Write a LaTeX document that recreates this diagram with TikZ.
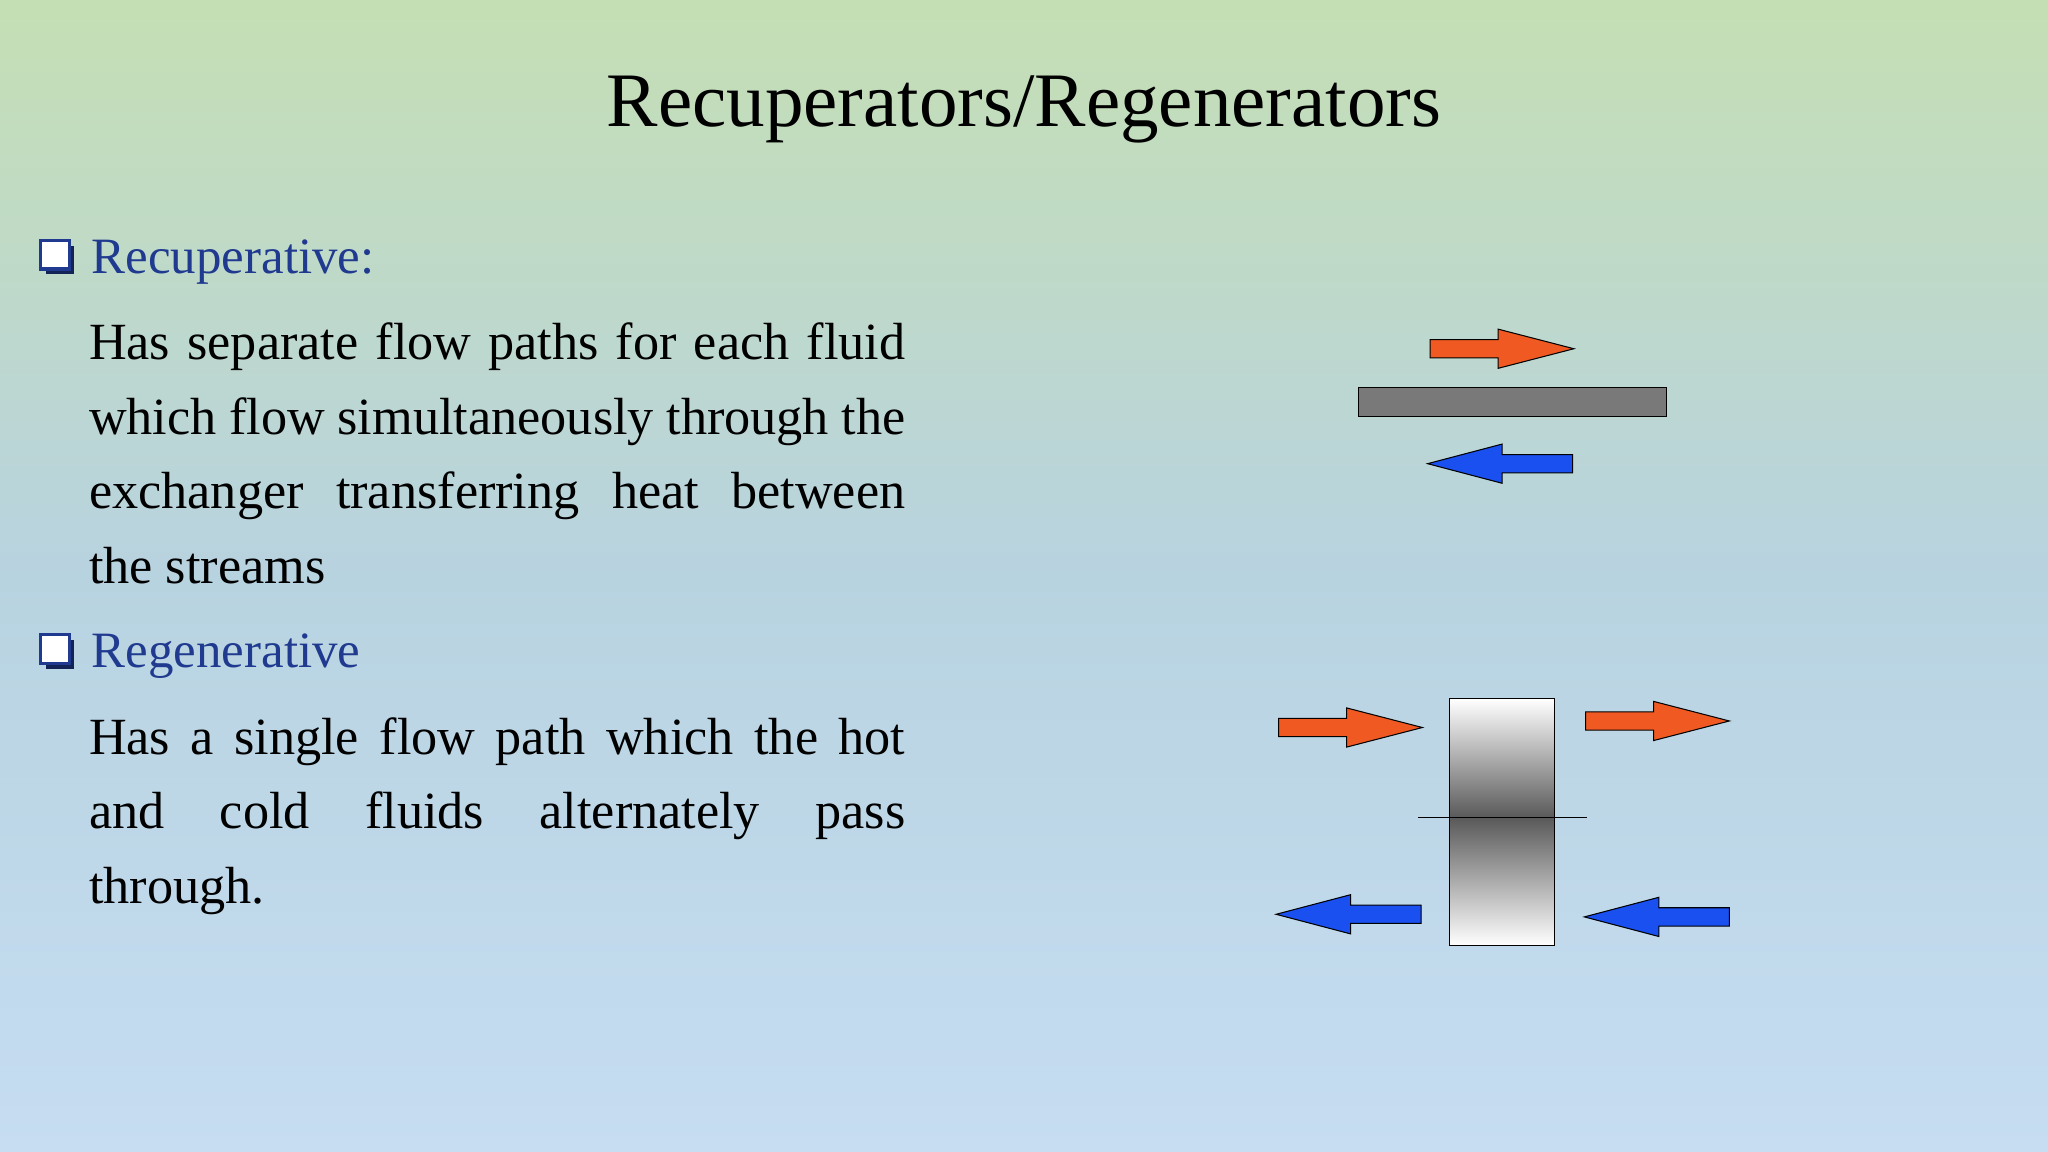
\documentclass[tikz,border=0pt]{standalone}
\usepackage{fontspec}
\setmainfont{Liberation Serif}
\definecolor{hot}{HTML}{F05A22}
\definecolor{cold}{HTML}{1A4FF0}
\definecolor{head}{HTML}{1F3A8F}
\begin{document}
\begin{tikzpicture}[x=1pt,y=-1pt,
  arr/.style={draw=black,line width=0.8pt},
  bul/.pic={\fill[head!60!black] (4,4) rectangle (26,26); \fill[white] (0,0) rectangle (22,22); \draw[head,line width=2.4pt] (0,0) rectangle (22,22);},
  rarr/.pic={\filldraw[arr,fill=hot] (0,-7)--(52,-7)--(52,-15)--(110,0)--(52,15)--(52,7)--(0,7)--cycle;},
  larr/.pic={\filldraw[arr,fill=cold] (0,0)--(57,-15)--(57,-7)--(111,-7)--(111,7)--(57,7)--(57,15)--cycle;},
  body/.style={anchor=north west,text width=625pt,align=justify,font=\fontsize{40}{57}\selectfont,inner sep=0pt},
  hd/.style={anchor=west,text=head,font=\fontsize{39}{44}\selectfont,inner sep=0pt}]
\shade[top color={rgb,255:red,197;green,223;blue,180},bottom color={rgb,255:red,198;green,221;blue,242},middle color={rgb,255:red,184;green,211;blue,224}] (0,0) rectangle (1568,882);
\useasboundingbox (0,0) rectangle (1568,882);
\node[font=\fontsize{59}{66}\selectfont] (title) at (784,84) {Recuperators/Regenerators};
\pic at (31,184) {bul};
\node[hd] (h1) at (70,201) {Recuperative:};
\node[body] (t1) at (68,247) {Has separate flow paths for each fluid\linebreak which flow simultaneously through the\linebreak exchanger transferring heat between\linebreak the streams};
\pic at (31,486) {bul};
\node[hd] (h2) at (70,502) {Regenerative};
\node[body] (t2) at (68,549) {Has a single flow path which the hot\linebreak and cold fluids alternately pass\linebreak through.};
% recuperator
\pic at (1095,267) {rarr};
\filldraw[draw=black,fill=gray!95!black,line width=0.8pt] (1040,297) rectangle (1276,319);
\pic at (1093,355) {larr};
% regenerator
\shade[top color=white,bottom color=black!65] (1110,535) rectangle (1190,626);
\shade[top color=black!65,bottom color=white] (1110,626) rectangle (1190,724);
\draw[line width=0.8pt] (1110,535) rectangle (1190,724);
\draw[line width=0.8pt] (1086,626) -- (1215,626);
\pic at (979,557) {rarr};
\pic at (1214,552) {rarr};
\pic at (977,700) {larr};
\pic at (1213,702) {larr};
\end{tikzpicture}
\end{document}
